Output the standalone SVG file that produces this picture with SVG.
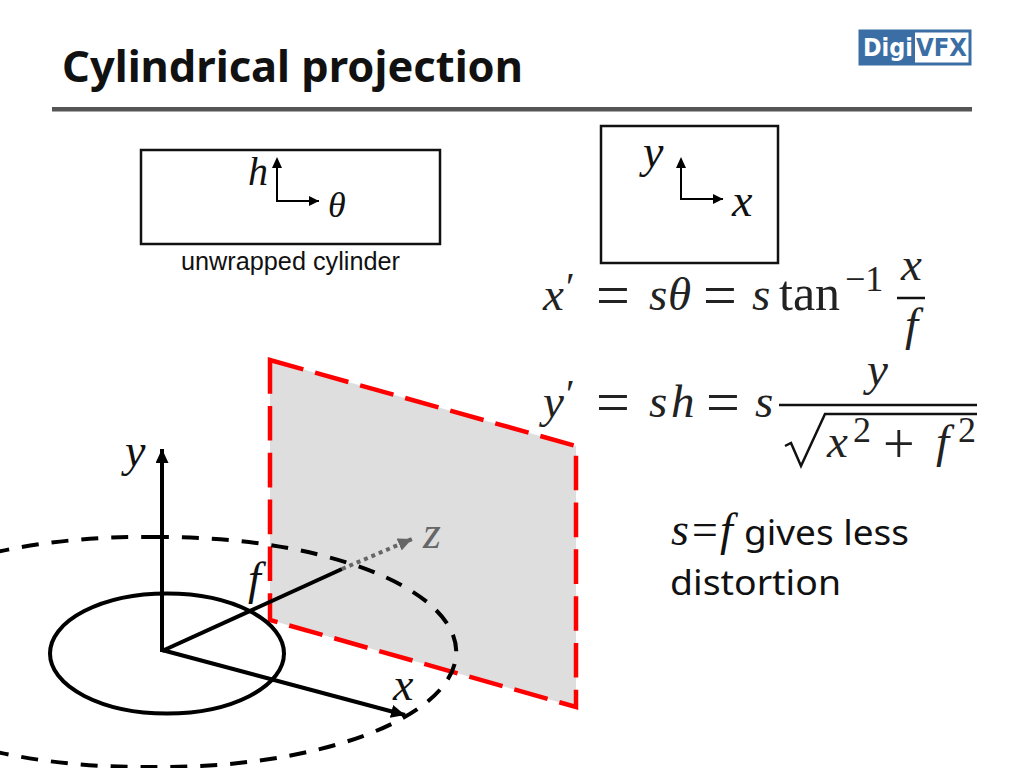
<svg xmlns="http://www.w3.org/2000/svg" width="1024" height="768" viewBox="0 0 1024 768">
<style>
.m{font-family:"Liberation Serif",serif;font-style:italic;font-size:46px;fill:#111}
.r{font-family:"Liberation Serif",serif;font-size:50px;fill:#222}
.e{font-family:"Liberation Serif",serif;font-style:italic;font-size:47px;fill:#222}
.o{font-family:"Liberation Serif",serif;font-size:60px;fill:#222}
.p{font-family:"Liberation Serif",serif;font-size:40px;fill:#222}
.s{font-family:"Liberation Serif",serif;font-size:36px;fill:#222}
.b{font-family:"Noto Sans",sans-serif;font-size:35px;fill:#111}
.box{fill:#fff;stroke:#111;stroke-width:2.5}
.ax{fill:none;stroke:#000;stroke-width:2}
.th{fill:none;stroke:#000;stroke-width:4}
.bar{stroke:#111;stroke-width:2.5}
</style>
<defs>
<marker id="a" markerUnits="userSpaceOnUse" markerWidth="12" markerHeight="10" refX="10" refY="5" orient="auto"><path d="M0 0L10 5L0 10Z" fill="#000"/></marker>
<marker id="A" markerUnits="userSpaceOnUse" markerWidth="16" markerHeight="14" refX="14" refY="6.5" orient="auto"><path d="M0 0L14 6.5L0 13Z" fill="#000"/></marker>
<marker id="G" markerUnits="userSpaceOnUse" markerWidth="16" markerHeight="14" refX="14" refY="6.5" orient="auto"><path d="M0 0L14 6.5L0 13Z" fill="#666"/></marker>
</defs>
<rect width="1024" height="768" fill="#fff"/>
<g id="title">
<text x="62" y="82" font-family="Noto Sans,sans-serif" font-weight="700" font-size="43" fill="#111" textLength="461" lengthAdjust="spacingAndGlyphs">Cylindrical projection</text>
<rect x="52" y="107" width="920" height="4.5" fill="#555"/>
</g>
<g id="logo">
<rect x="860" y="31" width="110" height="33" fill="#fff" stroke="#3a6ea5" stroke-width="3"/>
<rect x="860" y="31" width="55" height="33" fill="#3a6ea5"/>
<text x="863" y="56" font-family="DejaVu Sans,sans-serif" font-weight="700" font-size="25" fill="#fff" textLength="50" lengthAdjust="spacingAndGlyphs">Digi</text>
<text x="916" y="56" font-family="DejaVu Sans,sans-serif" font-weight="700" font-size="25" fill="#3a6ea5" textLength="51" lengthAdjust="spacingAndGlyphs">VFX</text>
</g>
<g id="unwrapped">
<rect class="box" x="141" y="150" width="299" height="94"/>
<path class="ax" d="M277 160V201H319" marker-end="url(#a)"/>
<path d="M272 168L277 157L282 168Z" fill="#000"/>
<text class="m" x="248" y="185" style="font-size:40px">h</text>
<text class="m" x="328" y="217" style="font-size:36px">θ</text>
<text x="290.500" y="270" text-anchor="middle" font-family="Liberation Sans,sans-serif" font-size="25" fill="#111" textLength="219" lengthAdjust="spacingAndGlyphs">unwrapped cylinder</text>
</g>
<g id="image">
<rect class="box" x="601" y="126" width="177" height="137"/>
<path class="ax" d="M681 160V199H723" marker-end="url(#a)"/>
<path d="M676 168L681 157L686 168Z" fill="#000"/>
<text class="m" x="643" y="167">y</text>
<text class="m" x="732" y="216">x</text>
</g>
<g id="eq1">
<text class="e" x="543" y="310">x</text><text class="p" x="566" y="300">′</text>
<text class="o" x="596" y="315">=</text>
<text class="e" x="649" y="310">s</text><text class="e" x="668" y="310">θ</text>
<text class="o" x="703" y="315">=</text>
<text class="e" x="752" y="310">s</text>
<text class="r" x="779" y="310">tan</text>
<text class="s" x="845" y="291">−1</text>
<text class="e" x="901" y="280">x</text>
<line class="bar" x1="897" y1="298" x2="925" y2="298"/>
<text class="e" x="905" y="340">f</text>
</g>
<g id="eq2">
<text class="e" x="543" y="417">y</text><text class="p" x="566" y="407">′</text>
<text class="o" x="596" y="422">=</text>
<text class="e" x="649" y="417">s</text><text class="e" x="671" y="417">h</text>
<text class="o" x="706" y="422">=</text>
<text class="e" x="755" y="417">s</text>
<line class="bar" x1="779" y1="405" x2="977" y2="405"/>
<text class="e" x="867" y="385">y</text>
<path d="M785 446L791 443L801 466L825 414H977" fill="none" stroke="#111" stroke-width="2.500"/>
<text class="e" x="827" y="457">x</text><text class="s" x="853" y="442">2</text>
<text class="o" x="883" y="463" style="font-size:56px">+</text>
<text class="e" x="936" y="457">f</text><text class="s" x="958" y="442">2</text>
</g>
<g id="note">
<text x="671" y="545" font-family="Liberation Serif,serif" font-style="italic" font-size="46" fill="#111">s=f</text>
<text class="b" x="744" y="545" textLength="165" lengthAdjust="spacingAndGlyphs">gives less</text>
<text class="b" x="670" y="595" textLength="171" lengthAdjust="spacingAndGlyphs">distortion</text>
</g>
<g id="plane">
<path d="M270 360L576 446V707L270 620Z" fill="#dedede"/>
<path d="M270 360L576 446V707L270 620Z" fill="none" stroke="#f00" stroke-width="4.500" stroke-dasharray="34.600 12.200"/>
</g>
<g id="connectors">
<path d="M152 537.070A294 115 0 1 1 152 766.930A294 115 0 1 1 152 537.070Z" fill="none" stroke="#000" stroke-width="4" stroke-dasharray="17 12.930"/>
<ellipse cx="167" cy="653.500" rx="117" ry="60" fill="none" stroke="#000" stroke-width="4"/>
<line class="th" x1="162" y1="652" x2="162" y2="449" marker-end="url(#A)"/>
<line class="th" x1="162" y1="650" x2="405" y2="715" marker-end="url(#A)"/>
<line class="th" x1="162" y1="651" x2="342" y2="569"/>
<line x1="342" y1="569" x2="412" y2="539" stroke="#666" stroke-width="4" stroke-dasharray="4 4" marker-end="url(#G)"/>
</g>
<g id="axis-labels">
<text class="m" x="125" y="466">y</text>
<text class="m" x="248" y="594">f</text>
<text class="m" x="393" y="700">x</text>
<text class="m" x="423" y="548" style="fill:#666">z</text>
</g>
</svg>
